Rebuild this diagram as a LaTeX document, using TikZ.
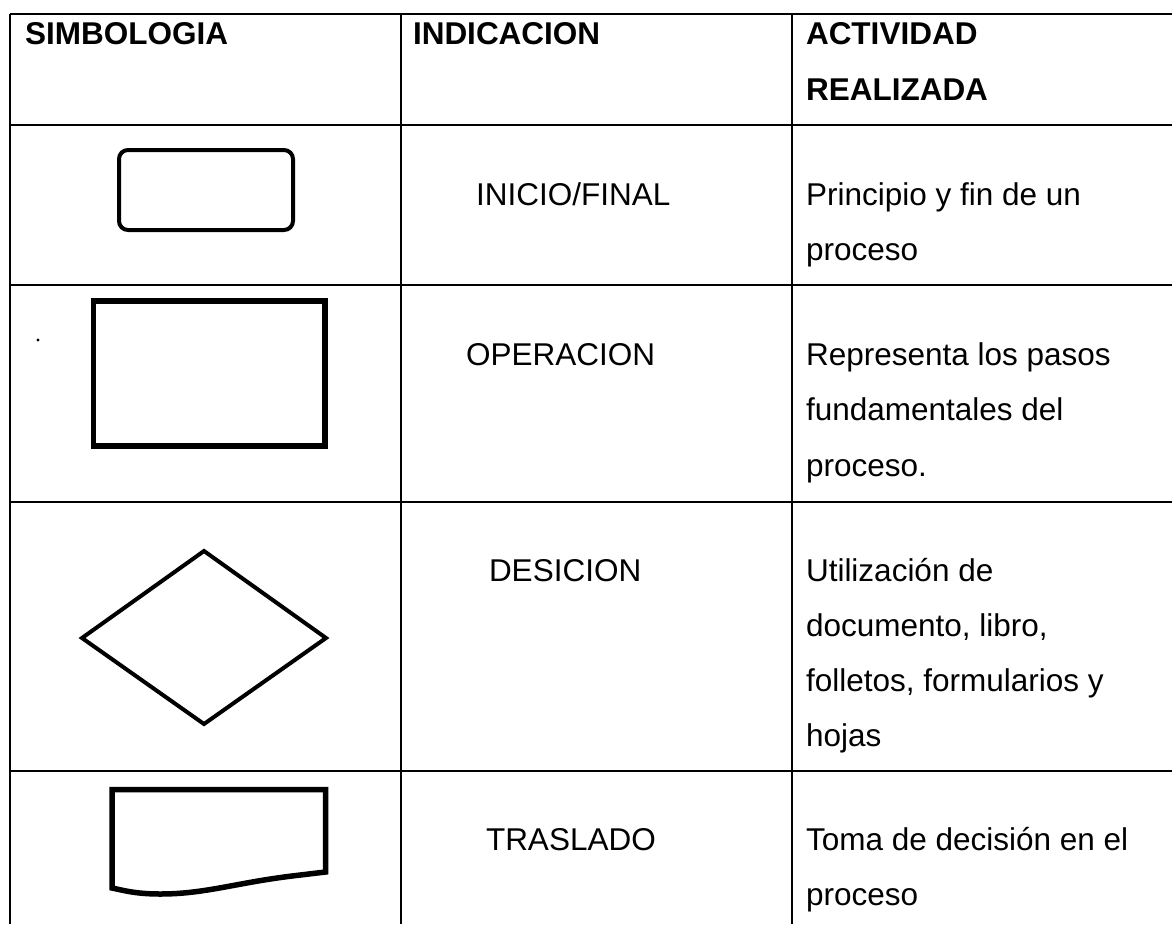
\documentclass[tikz,border=0pt]{standalone}
\usepackage{fontspec}
\setmainfont{Liberation Sans}
\begin{document}
\begin{tikzpicture}[x=1pt,y=-1pt,
  txt/.style={anchor=base west,inner sep=0pt,outer sep=0pt,font=\fontsize{31.5}{38}\selectfont},
  hdr/.style={txt,font=\fontsize{31.5}{38}\selectfont\bfseries},
  grid/.style={line width=1.8pt,black},
  sym/.style={line width=4.5pt,black,line join=miter}]
\useasboundingbox (0,0) rectangle (1172,924);
\fill[white] (0,0) rectangle (1172,924);
% table grid
\draw[grid] (10,14) -- (1172,14);
\draw[grid] (10,125) -- (1172,125);
\draw[grid] (10,285) -- (1172,285);
\draw[grid] (10,502) -- (1172,502);
\draw[grid] (10,771) -- (1172,771);
\draw[grid] (10,14) -- (10,924);
\draw[grid] (401,14) -- (401,924);
\draw[grid] (792,14) -- (792,924);
% header
\node[hdr] (h1) at (25,44) {SIMBOLOGIA};
\node[hdr] (h2) at (413,44) {INDICACION};
\node[hdr] (h3a) at (806,44) {ACTIVIDAD};
\node[hdr] (h3b) at (806,100) {REALIZADA};
% row 1
\draw[sym,line width=4pt,rounded corners=9pt] (119,150) rectangle (293,230);
\node[txt] (i1) at (476,205) {INICIO/FINAL};
\node[txt] (a1a) at (806,205) {Principio y fin de un};
\node[txt] (a1b) at (806,260) {proceso};
% row 2
\fill (38,340) circle (1.6);
\draw[sym,line width=5.5pt] (93.5,301) rectangle (325,446);
\node[txt] (i2) at (466,365) {OPERACION};
\node[txt] (a2a) at (806,365) {Representa los pasos};
\node[txt] (a2b) at (806,420.5) {fundamentales del};
\node[txt] (a2c) at (806,476) {proceso.};
% row 3
\draw[sym,line width=4pt] (82,638) -- (204,551) -- (326,638) -- (204,724) -- cycle;
\node[txt] (i3) at (489,581) {DESICION};
\node[txt] (a3a) at (806,581) {Utilización de};
\node[txt] (a3b) at (806,636) {documento, libro,};
\node[txt] (a3c) at (806,691) {folletos, formularios y};
\node[txt] (a3d) at (806,746) {hojas};
% row 4
\draw[sym,line width=5.5pt] (112,789.5) -- (325.5,789.5) -- (325.5,872)
  -- (292,876) .. controls (235,883) and (205,894) .. (160,894)
  .. controls (135,894) and (122,890) .. (112,888) -- cycle;
\node[txt] (i4) at (486,850) {TRASLADO};
\node[txt] (a4a) at (806,850) {Toma de decisión en el};
\node[txt] (a4b) at (806,905) {proceso};
\end{tikzpicture}
\end{document}
